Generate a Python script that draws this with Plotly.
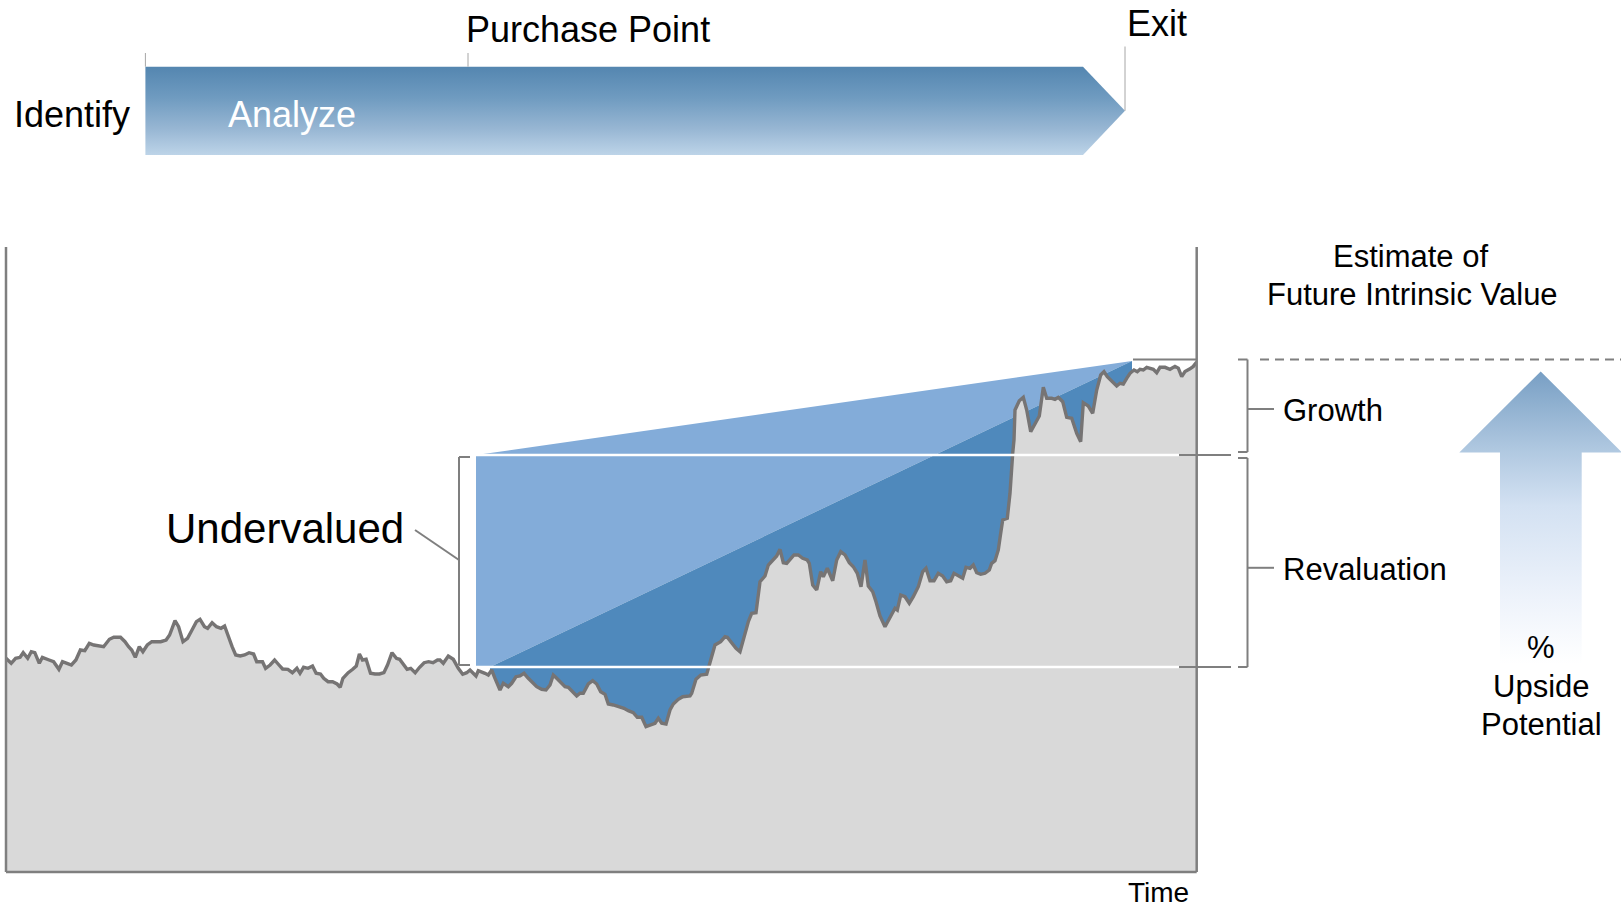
import plotly.graph_objects as go

W, H = 1621, 911
FONT = "Liberation Sans, Arial, sans-serif"

# ---------------- data (time units, price units) ----------------
time = [
    0, 5.2, 9.6, 14.1, 17.2, 21.7, 25.3, 28.8, 33.3, 36.4,
    43.1, 47.6, 52.9, 56.5, 61, 65.4, 69.9, 74.4, 78.8, 83.3,
    87.8, 94.4, 97.6, 103.4, 107.8, 114.5, 119, 122.6, 125.7, 129.3,
    133.3, 136.9, 141.3, 145.8, 154.7, 160.1, 163.6, 169, 172.6, 177,
    181.5, 186, 190.4, 194, 198.5, 201.6, 206.1, 210.5, 215, 218.6,
    221.7, 226.1, 229.7, 234.2, 238.6, 243.1, 247.6, 250.7, 256.5, 259.6,
    264.1, 268.6, 273, 276.6, 281.9, 286.4, 290.9, 294, 297.6, 302,
    306.5, 310.1, 314.5, 317.7, 322.1, 326.6, 331.1, 334.2, 336.9, 342.2,
    346.7, 350.3, 353.4, 356.5, 360.1, 364.5, 369, 373.5, 377.9, 381.5,
    386, 390.4, 393.6, 398, 401.1, 404.7, 409.2, 413.6, 418.1, 422.6,
    427, 431.5,
    434, 437.3, 442.3, 447.3, 452.3, 456.7, 460.7, 464, 467.3, 470,
    472.3, 475.7, 479, 482.3, 485.7, 489, 494, 497.3, 502.3, 505.7,
    510, 514, 518, 522.3, 526.7, 530.7, 535.7, 540, 544, 547.3,
    550.7, 554, 559, 562.3, 566.7, 570.7, 574, 577.3, 582.3, 586.7,
    590.7, 594.7, 599, 602.3, 607.3, 614, 618, 622.3, 627.3, 631.3,
    635.7, 640, 644, 649, 652.3, 655.7, 660, 664, 667.3, 672.3,
    676.7, 684, 685.7, 690, 694.7, 700.7, 704.7, 709, 714.7, 719,
    721.3, 725.7, 730, 734, 738, 742.3, 745.7, 750, 754, 759,
    762.3, 767.3, 770.7, 774,
    777.3, 780.7, 784.7, 788, 792.3, 796.7, 801.3, 803.3, 806.7, 810.7,
    814.7, 817.3, 821.3, 826.7, 830.7, 834.7, 839, 843.3, 847.3, 851.3,
    855, 859, 862.3, 866.7, 870, 874, 879, 884, 889, 891.3,
    894.7, 899, 903.3, 907.3, 912.3, 916.7, 920, 924, 928, 932.3,
    936.7, 940.7, 944.7, 948, 952.3, 956.7, 960, 964, 967.3, 970.7,
    974.7, 979, 983.3, 985.7, 989, 992.3, 994.7, 996.7, 1001.3, 1004,
    1006.7, 1008, 1009, 1013.3, 1017.3, 1020.7, 1024.7, 1029, 1033.3, 1037.3,
    1040.7, 1045.7, 1049, 1052.3, 1056.7, 1060.7, 1065.7, 1070.7, 1074.7, 1077.3,
    1082.3, 1086.7, 1090.7, 1094.7, 1098, 1101.3, 1105.7, 1110.7, 1114, 1117.3,
    1120.7, 1124, 1128, 1131.3, 1134, 1137.3, 1140.7, 1144, 1147.3, 1150.7,
    1154, 1159, 1164, 1169, 1172.3, 1175.7, 1179, 1184, 1187.3, 1190.7,
]
price = [
    213.7, 208.7, 213.7, 214.7, 219.3, 213.7, 220.3, 219.3, 208.7, 214.7,
    212, 210.3, 202.7, 210.3, 208.7, 207, 212, 222, 221.3, 228.7,
    227, 226, 225.3, 232.7, 234.7, 234.7, 230.3, 225.3, 222, 214.7,
    225.3, 220.3, 227, 230.3, 230.3, 232, 237, 251.3, 245.3, 230.3,
    233.7, 242, 250.3, 252.7, 245.3, 243.7, 249.3, 245.3, 243.7, 246,
    237, 225.3, 217, 216, 217, 219.3, 218, 210.3, 210.3, 203.7,
    207, 212, 207, 203, 202.7, 199.3, 203.7, 198.7, 204.7, 203.7,
    206, 198.7, 198, 193.7, 190.3, 190.3, 188, 184.7, 193.7, 199.3,
    202.7, 206, 218, 212, 212.7, 198.7, 198, 198, 199.3, 207,
    219.3, 213.7, 212.7, 206, 202.7, 203.7, 199.3, 204.7, 209.3, 210.3,
    209.3, 212,
    212, 208.7, 216, 212.7, 203.7, 197.7, 199.3, 202, 199.3, 196,
    201.3, 200.3, 198.7, 197, 202, 193.7, 182, 188.7, 185.3, 188.7,
    195.3, 196, 198.7, 193.7, 188.7, 185.3, 182.7, 182, 187, 197,
    193.7, 190.3, 185.3, 184.7, 180.3, 176, 178.7, 178.7, 188, 191.3,
    188, 180.3, 177.7, 168, 167, 165.3, 163.7, 161.3, 159.3, 154.7,
    154.7, 145.3, 147, 148.7, 153.7, 148.7, 148, 162, 168, 172.7,
    175.3, 176, 178.7, 192.7, 197, 197.7, 212, 227, 230.3, 235.3,
    234.7, 228.7, 223.7, 220.3, 235.3, 250.3, 258.7, 259.3, 290.3, 296,
    307, 312, 316, 322.7,
    309.3, 308.7, 312.7, 317, 317, 313.7, 312, 308.7, 287, 282,
    300.3, 295.3, 303.7, 291.3, 312, 320.3, 317, 309.3, 305.3, 298.7,
    285.3, 312, 286, 280.3, 270.3, 256, 245.3, 255.3, 263.7, 262,
    277, 275.3, 268.7, 275.3, 285.3, 300.3, 303.7, 291.3, 291.3, 298.7,
    296, 290.3, 291.3, 298.7, 296, 293.7, 304.7, 303.7, 307, 299.3,
    297.7, 298.7, 302, 308.7, 311.3, 322, 338.7, 352, 353.7, 378.7,
    418.7, 432, 462, 471.3, 474.7, 462, 440.3, 448.7, 456, 484.7,
    473.7, 473.7, 472.7, 474.7, 470.3, 454.7, 453.7, 438.7, 430.3, 469.3,
    466, 458.7, 482, 497, 500.3, 495.3, 491.3, 486, 488.7, 488,
    493.7, 498.7, 502, 500.3, 502.7, 502, 504.7, 503.7, 502.7, 499.3,
    504.7, 504.7, 502.7, 505.6, 503.9, 495.3, 500.5, 503.2, 505.6, 510,
]
assert len(time) == len(price)

purchase_time = 470
wedge_start_time = 484
exit_time = 1126
band_end_time = 1173
price_at_purchase = 205
intrinsic_value_now = 417
future_intrinsic_value = 511

# ---------------- geometry (pixels) ----------------
X0, X1 = 6, 1196.7          # plot area left/right
YB, YT = 872, 247           # plot area bottom/top
T_MAX, P_MAX = 1190.7, 625


def pxx(x):
    return x / W


def pxy(y):
    return 1 - y / H


def price_px(p):
    return YB - p / P_MAX * (YB - YT)


def time_px(t):
    return X0 + t / T_MAX * (X1 - X0)


fig = go.Figure()

# light blue wedge (undervaluation + growth)
fig.add_trace(go.Scatter(
    x=[purchase_time, purchase_time, exit_time, wedge_start_time],
    y=[price_at_purchase, intrinsic_value_now, future_intrinsic_value, price_at_purchase],
    fill="toself", fillcolor="#83acd9", mode="lines", line=dict(width=0, color="#83acd9"),
    xaxis="x", yaxis="y", hoverinfo="skip"))
# dark blue wedge (path from purchase price to future value)
fig.add_trace(go.Scatter(
    x=[wedge_start_time, exit_time, exit_time, wedge_start_time],
    y=[price_at_purchase, future_intrinsic_value, 0, 0],
    fill="toself", fillcolor="#4f89bc", mode="lines", line=dict(width=0, color="#4f89bc"),
    xaxis="x", yaxis="y", hoverinfo="skip"))
# price
fig.add_trace(go.Scatter(
    x=time, y=price, mode="lines", fill="tozeroy", fillcolor="#d9d9d9",
    line=dict(color="#767474", width=3.4), xaxis="x", yaxis="y", hoverinfo="skip"))
# white band edges
for lvl in (intrinsic_value_now, price_at_purchase):
    fig.add_trace(go.Scatter(
        x=[purchase_time, band_end_time], y=[lvl, lvl], mode="lines",
        line=dict(color="white", width=2.5), xaxis="x", yaxis="y", hoverinfo="skip"))

# ---------------- decorative pixel-space items ----------------
banner_x = [145.4, 1083, 1125, 1083, 145.4, 145.4]
banner_y = [66.7, 66.7, 110.8, 155, 155, 66.7]
fig.add_trace(go.Scatter(
    x=banner_x, y=[H - v for v in banner_y], mode="lines", fill="toself",
    line=dict(width=0, color="#6b97bd"),
    fillgradient=dict(type="vertical", colorscale=[
        [0, "#bdd4e8"], [0.3, "#97b6d3"], [0.65, "#6f9bc0"], [1, "#5486b0"]]),
    xaxis="x2", yaxis="y2", hoverinfo="skip"))

arrow_x = [1540.7, 1622, 1581.7, 1581.7, 1500, 1500, 1459.3, 1540.7]
arrow_y = [371.5, 452.4, 452.4, 664, 664, 452.4, 452.4, 371.5]
fig.add_trace(go.Scatter(
    x=arrow_x, y=[H - v for v in arrow_y], mode="lines", fill="toself",
    line=dict(width=0, color="#b1c9e1"),
    fillgradient=dict(type="vertical", colorscale=[
        [0, "#ffffff"], [0.22, "#eef3fb"], [0.54, "#d3e1f2"], [0.725, "#b1c9e1"], [1, "#789fc4"]]),
    xaxis="x2", yaxis="y2", hoverinfo="skip"))

GRAY = "#7f7f7f"
shapes = []


def seg(x0, y0, x1, y1, color=GRAY, width=2, dash=None):
    shapes.append(dict(type="line", xref="paper", yref="paper",
                       x0=pxx(x0), y0=pxy(y0), x1=pxx(x1), y1=pxy(y1),
                       line=dict(color=color, width=width, dash=dash)))


# frame
seg(X0, YT, X0, YB, width=2.5)
seg(X0, YB, X1, YB, width=2.5)
seg(X1, YT, X1, YB, width=2.5)

# future value target line
ty = price_px(future_intrinsic_value) - 1.5
seg(time_px(exit_time) + 1, ty, X1, ty)
seg(1260, ty, W, ty, dash="9px,6px")

# band extensions outside the plot
iy = price_px(intrinsic_value_now)
py_ = price_px(price_at_purchase)
seg(1179, iy, 1231, iy)
seg(1179, py_, 1231, py_)

# growth bracket
seg(1238, ty, 1247.5, ty)
seg(1247.5, ty, 1247.5, iy - 3)
seg(1238, iy - 3, 1247.5, iy - 3)
seg(1247.5, 409, 1274, 409)
# revaluation bracket
seg(1238, iy + 3, 1247.5, iy + 3)
seg(1247.5, iy + 3, 1247.5, py_)
seg(1238, py_, 1247.5, py_)
seg(1247.5, 567.8, 1274, 567.8)
# undervalued bracket
seg(470, iy + 2, 459, iy + 2)
seg(459, iy + 2, 459, py_ - 2)
seg(459, py_ - 2, 470, py_ - 2)
seg(459, 560, 415, 530)

# timeline ticks
seg(145.4, 53, 145.4, 66.7, color="#a6a6a6", width=1)
seg(468, 53, 468, 66.7, color="#a6a6a6", width=1)
seg(1125, 46.5, 1125, 110.8, color="#a6a6a6", width=1)

annotations = []


def label(text, x, y, size, xanchor="left", color="black", yanchor="middle"):
    annotations.append(dict(text=text, x=pxx(x), y=pxy(y), xref="paper", yref="paper",
                             xanchor=xanchor, yanchor=yanchor, showarrow=False,
                             font=dict(family=FONT, size=size, color=color)))


label("Identify", 12, 115, 36)
label("Analyze", 226, 115, 36, color="white")
label("Purchase Point", 464, 30, 36)
label("Exit", 1125, 24, 36)
label("Estimate of", 1410, 256, 31, xanchor="center")
label("Future Intrinsic Value", 1412, 294, 31, xanchor="center")
label("Growth", 1281, 411, 31)
label("Revaluation", 1281, 569, 31)
label("%", 1541, 647, 31, xanchor="center")
label("Upside", 1541, 686, 31, xanchor="center")
label("Potential", 1541, 724, 31, xanchor="center")
label("Undervalued", 164, 528, 42)
label("Time", 1158, 910, 28, xanchor="center", yanchor="bottom")

fig.update_layout(
    width=W, height=H, margin=dict(l=0, r=0, t=0, b=0, pad=0),
    paper_bgcolor="white", plot_bgcolor="rgba(0,0,0,0)",
    showlegend=False, hovermode=False,
    xaxis=dict(domain=[pxx(X0), pxx(X1)], range=[0, T_MAX], visible=False, fixedrange=True),
    yaxis=dict(domain=[pxy(YB), pxy(YT)], range=[0, P_MAX], visible=False, fixedrange=True),
    xaxis2=dict(domain=[0, 1], range=[0, W], visible=False, anchor="y2", fixedrange=True),
    yaxis2=dict(domain=[0, 1], range=[0, H], visible=False, anchor="x2", fixedrange=True),
    shapes=shapes, annotations=annotations,
)

fig.write_html("out.html", config={"displayModeBar": False},
               post_script="document.body.style.margin='0';")
